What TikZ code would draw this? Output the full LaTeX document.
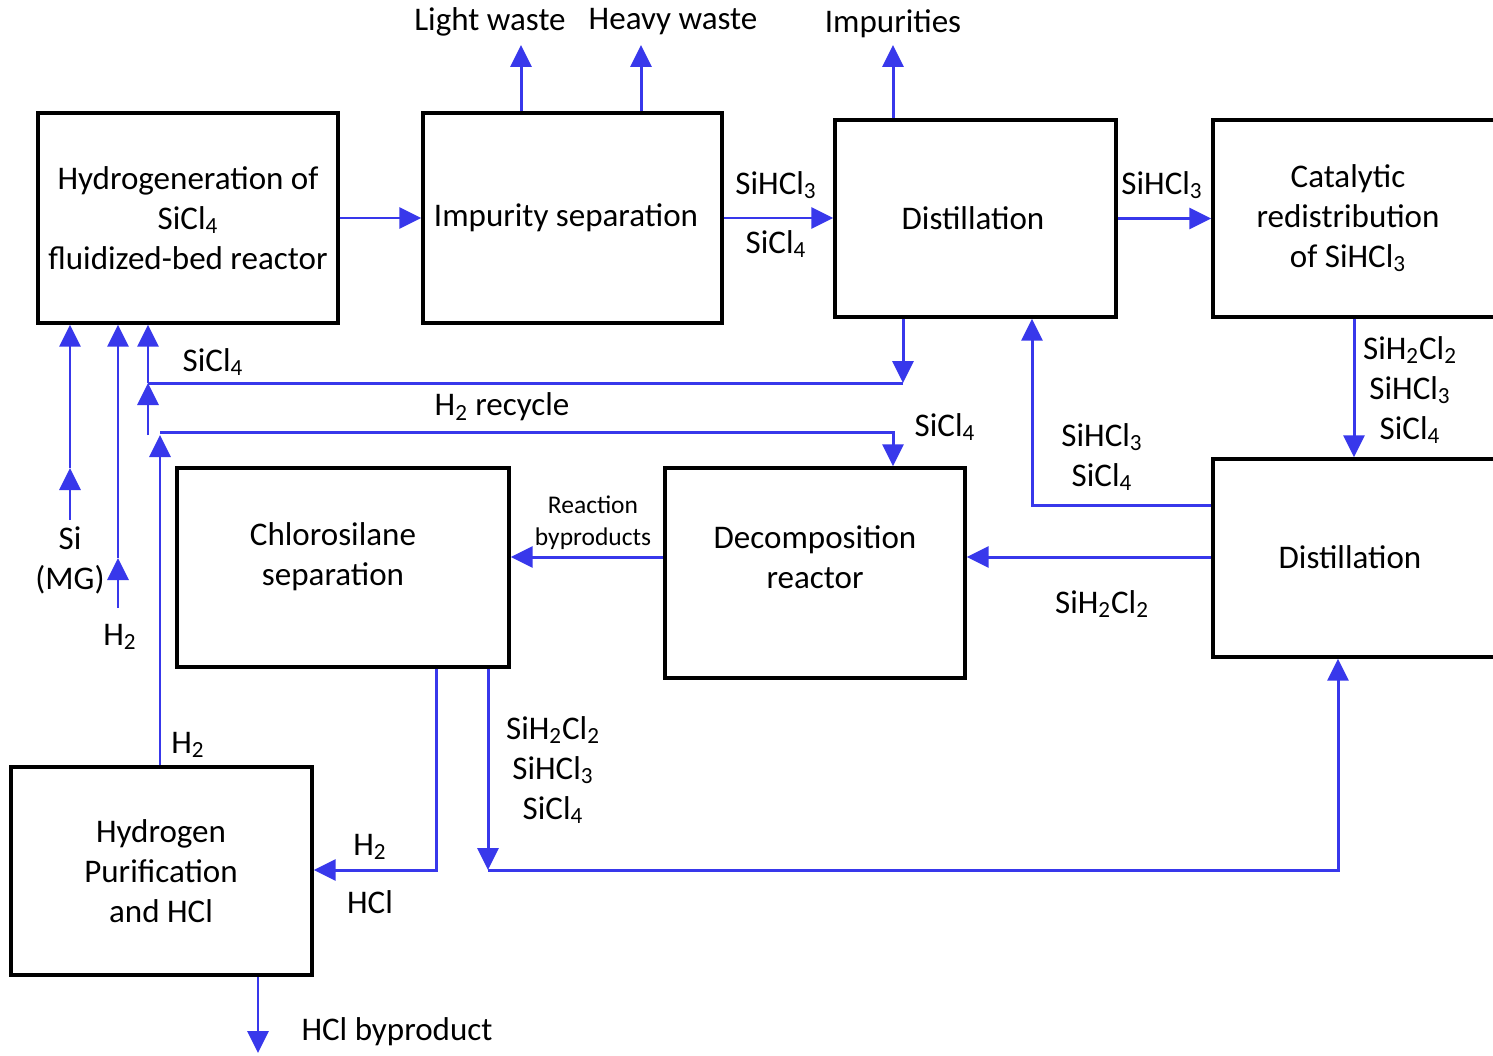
\documentclass[tikz,border=0pt]{standalone}
\usepackage{fontspec}
\setmainfont{Carlito}
\usetikzlibrary{arrows.meta}
\definecolor{flowblue}{RGB}{56,56,235}
\newcommand{\sbs}[1]{\textsubscript{#1}}
\begin{document}
\begin{tikzpicture}[x=0.02cm, y=-0.02cm,
  font=\fontsize{18.8}{22.7}\selectfont,
  box/.style={draw, line width=2pt, inner sep=0pt},
  txt/.style={align=center, inner sep=0pt},
  small/.style={align=center, inner sep=0pt, font=\fontsize{14.5}{18}\selectfont},
  flow/.style={draw=flowblue, line width=1.7pt, -{Triangle[length=0.44cm,width=0.42cm]}},
  pipe/.style={draw=flowblue, line width=1.7pt}]
\useasboundingbox (0,0) rectangle (1493,1055);
% boxes
\node[box, minimum width=6cm,    minimum height=4.2cm]  (A) at (188,218) {};
\node[box, minimum width=5.98cm, minimum height=4.2cm]  (B) at (572.5,218) {};
\node[box, minimum width=5.62cm, minimum height=3.94cm] (C) at (975.5,218.5) {};
\node[box, minimum width=5.74cm, minimum height=3.94cm] (D) at (1356.5,218.5) {};
\node[box, minimum width=5.74cm, minimum height=3.96cm] (E) at (1356.5,558) {};
\node[box, minimum width=6cm,    minimum height=4.2cm]  (F) at (815,573) {};
\node[box, minimum width=6.64cm, minimum height=3.98cm] (G) at (343,567.5) {};
\node[box, minimum width=6.02cm, minimum height=4.16cm] (H) at (161.5,871) {};
% box texts
\node[txt] (At) at (188,218) {Hydrogeneration of\\SiCl\sbs{4}\\fluidized-bed reactor};
\node[txt] (Bt) at (566,218) {Impurity separation};
\node[txt] (Ct) at (973,218) {Distillation};
\node[txt] (Dt) at (1348,218) {Catalytic\\redistribution\\of SiHCl\sbs{3}};
\node[txt] (Et) at (1350,557) {Distillation};
\node[txt] (Ft) at (815,557) {Decomposition\\reactor};
\node[txt] (Gt) at (333,557) {Chlorosilane\\separation};
\node[txt] (Ht) at (161,871) {Hydrogen\\Purification\\and HCl};
% helper coordinates
\coordinate (lw) at (521,45);
\coordinate (hw) at (641,45);
\coordinate (imp) at (893,45);
\coordinate (xde) at (1354,0);
\coordinate (xec) at (1032,0);
\coordinate (yec) at (0,505);
\coordinate (yef) at (0,557);
\coordinate (xcd) at (903,0);
\coordinate (yrec) at (0,383);
\coordinate (xs) at (148,0);
\coordinate (sfree) at (148,435);
\coordinate (htip) at (160,435);
\coordinate (xh) at (160,0);
\coordinate (yh) at (0,432);
\coordinate (xf) at (893,0);
\coordinate (si0) at (70,520);
\coordinate (si1) at (70,468);
\coordinate (h0) at (118,608);
\coordinate (h1) at (118,558);
\coordinate (xg1) at (436,0);
\coordinate (xg2) at (488,0);
\coordinate (yb) at (0,870);
\coordinate (xe) at (1338,0);
\coordinate (hb) at (258,1053);
% connectors
\draw[flow] (A.east) -- (B.west);
\draw[flow] (B.east) -- (B.east -| C.west);
\draw[flow] (C.east) -- (C.east -| D.west);
\draw[flow] (B.north -| lw) -- (lw);
\draw[flow] (B.north -| hw) -- (hw);
\draw[flow] (C.north -| imp) -- (imp);
\draw[flow] (D.south -| xde) -- (E.north -| xde);
\draw[flow] (E.west |- yec) -- (xec |- yec) -- (xec |- C.south);
\draw[flow] (E.west |- yef) -- (F.east |- yef);
\draw[flow] (F.west |- yef) -- (G.east |- yef);
\draw[flow] (C.south -| xcd) -- (xcd |- yrec);
\draw[pipe] (xcd |- yrec) -- (xs |- yrec);
\draw[flow] (xs |- yrec) -- (xs |- A.south);
\draw[flow] (sfree) -- (xs |- yrec);
\draw[flow] (H.north -| xh) -- (htip);
\draw[flow] (xh |- yh) -- (xf |- yh) -- (xf |- F.north);
\draw[flow] (si0) -- (si1);
\draw[flow] (si1) -- (si1 |- A.south);
\draw[flow] (h0) -- (h1);
\draw[flow] (h1) -- (h1 |- A.south);
\draw[flow] (G.south -| xg1) -- (xg1 |- yb) -- (H.east |- yb);
\draw[flow] (G.south -| xg2) -- (xg2 |- yb);
\draw[flow] (xg2 |- yb) -- (xe |- yb) -- (xe |- E.south);
\draw[flow] (H.south -| hb) -- (hb);
% labels
\node[txt] (Llw) at (490,22) {Light waste};
\node[txt] (Lhw) at (673,22) {Heavy waste};
\node[txt] (Limp) at (893,24) {Impurities};
\node[txt] (Lbc1) at (776,185) {SiHCl\sbs{3}};
\node[txt] (Lbc2) at (776,244) {SiCl\sbs{4}};
\node[txt] (Lcd) at (1162,185) {SiHCl\sbs{3}};
\node[txt] (Lde) at (1410,390) {SiH\sbs{2}Cl\sbs{2}\\SiHCl\sbs{3}\\SiCl\sbs{4}};
\node[txt] (Lec) at (1102,457) {SiHCl\sbs{3}\\SiCl\sbs{4}};
\node[txt] (Lef) at (1102,604) {SiH\sbs{2}Cl\sbs{2}};
\node[txt] (Lfs) at (945,427) {SiCl\sbs{4}};
\node[txt] (Lrec) at (502,407) {H\sbs{2} recycle};
\node[txt] (Lsic) at (213,362) {SiCl\sbs{4}};
\node[small] (Lfg) at (593,523) {Reaction\\byproducts};
\node[txt] (Lsi) at (70,560) {Si\\(MG)};
\node[txt] (Lh2a) at (120,637) {H\sbs{2}};
\node[txt] (Lh2b) at (188,745) {H\sbs{2}};
\node[txt] (Lh2c) at (370,847) {H\sbs{2}};
\node[txt] (Lhcl) at (370,902) {HCl};
\node[txt] (Lgs) at (553,770) {SiH\sbs{2}Cl\sbs{2}\\SiHCl\sbs{3}\\SiCl\sbs{4}};
\node[txt] (Lhb) at (397,1032) {HCl byproduct};
\end{tikzpicture}
\end{document}
